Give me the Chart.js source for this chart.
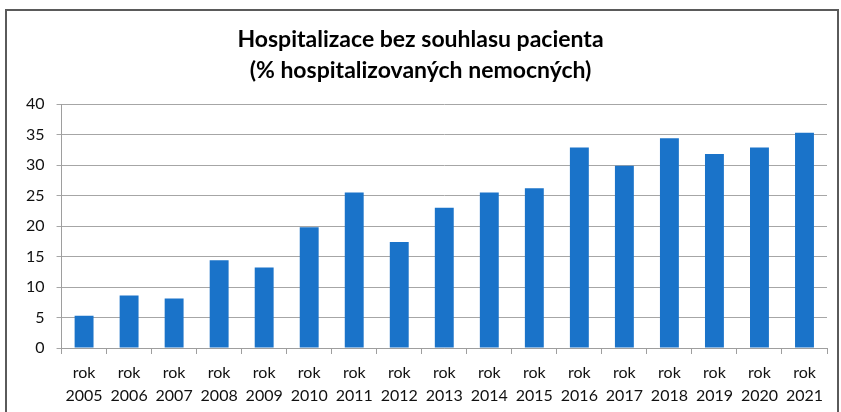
<!DOCTYPE html>
<html>
<head>
<meta charset="utf-8">
<script src="https://cdn.jsdelivr.net/npm/chart.js@4"></script>
<style>
  html, body { margin: 0; padding: 0; background: #fff; }
  #wrap { width: 841px; height: 412px; }
</style>
</head>
<body>
<div id="wrap"><canvas id="myChart" width="841" height="412"></canvas></div>
<script>
// data
const years = ['2005', '2006', '2007', '2008', '2009', '2010', '2011', '2012', '2013',
  '2014', '2015', '2016', '2017', '2018', '2019', '2020', '2021'];
const values = [5.3, 8.6, 8.1, 14.4, 13.2, 19.8, 25.5, 17.4, 23.0,
  25.5, 26.2, 32.9, 29.9, 34.4, 31.8, 32.9, 35.3];
const titleLines = ['Hospitalizace bez souhlasu pacienta', '(% hospitalizovaných nemocných)'];
const yMax = 40;
const yStep = 5;

// frame around the whole chart, like the spreadsheet chart box
const framePlugin = {
  id: 'frame',
  beforeDraw(chart) {
    const ctx = chart.ctx;
    ctx.save();
    ctx.fillStyle = '#fff';
    ctx.fillRect(0, 0, chart.width, chart.height);
    ctx.strokeStyle = '#5a5a5a';
    ctx.lineWidth = 2;
    ctx.strokeRect(6, 10, chart.width - 9, chart.height + 20);
    ctx.restore();
  },
};

const ctx = document.getElementById('myChart').getContext('2d');
const myChart = new Chart(ctx, {
  type: 'bar',
  data: {
    labels: years.map((y) => ['rok', y]),
    datasets: [
      {
        data: values,
        backgroundColor: '#1a73c9',
        borderWidth: 0,
        barPercentage: 0.42,
        categoryPercentage: 1,
      },
    ],
  },
  options: {
    responsive: false,
    animation: false,
    layout: { padding: { left: 14, right: 14, top: 10, bottom: 0 } },
    plugins: {
      legend: { display: false },
      tooltip: { enabled: false },
      title: {
        display: true,
        text: titleLines,
        color: '#000',
        font: { family: 'Lato', size: 23, weight: 'bold', lineHeight: 1.35 },
        padding: { top: 14, bottom: 18 },
      },
    },
    scales: {
      x: {
        offset: true,
        afterFit(scale) {
          scale.height = 64;
        },
        grid: {
          display: true,
          offset: true,
          drawOnChartArea: false,
          drawTicks: true,
          tickLength: 6,
          color: '#9e9e9e',
        },
        border: { color: '#9e9e9e' },
        ticks: {
          color: '#111',
          font: { family: 'Lato', size: 16, lineHeight: 1.45 },
          maxRotation: 0,
          autoSkip: false,
          padding: 7,
        },
      },
      y: {
        min: 0,
        max: yMax,
        ticks: {
          stepSize: yStep,
          color: '#111',
          font: { family: 'Lato', size: 16 },
          padding: 12,
        },
        grid: { color: '#a6a6a6', tickLength: 5 },
        border: { color: '#9e9e9e' },
      },
    },
  },
  plugins: [framePlugin],
});
</script>
</body>
</html>
